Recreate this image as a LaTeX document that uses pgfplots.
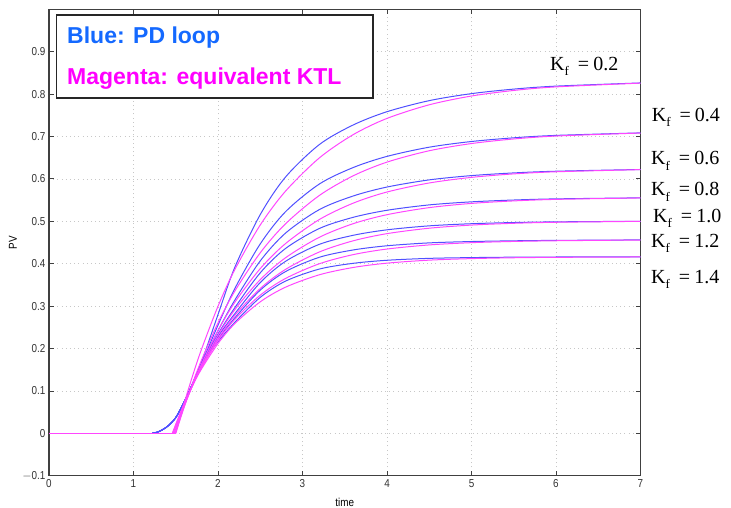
\documentclass[border=0pt]{standalone}
\usepackage{fontspec}
\setmainfont{Liberation Sans}
\newfontfamily\tickfont[FakeStretch=0.86]{Liberation Sans}
\newfontfamily\timesf{Liberation Serif}
\usepackage{pgfplots}
\pgfplotsset{compat=1.18}
\definecolor{pdblue}{RGB}{80,80,255}
\definecolor{ktlmag}{RGB}{255,70,255}
\definecolor{legblue}{RGB}{20,105,255}
\definecolor{legmag}{RGB}{255,0,255}
\newcommand{\Kf}[1]{{\timesf\fontsize{20bp}{22bp}\selectfont K\raisebox{-0.55ex}{\fontsize{13bp}{13bp}\selectfont f}\hspace{0.45em}=\hspace{0.2em}#1}}
\begin{document}
\begin{tikzpicture}
\begin{axis}[
  at={(0,0)}, anchor=south west,
  scale only axis, width=591.5bp, height=466.4bp,
  xmin=0, xmax=7, ymin=-0.1, ymax=1.0,
  xtick={0,1,2,3,4,5,6,7},
  ytick={-0.1,0,0.1,0.2,0.3,0.4,0.5,0.6,0.7,0.8,0.9},
  yticklabels={$-$0.1,0,0.1,0.2,0.3,0.4,0.5,0.6,0.7,0.8,0.9},
  /pgf/number format/assume math mode=true,
  tick label style={font=\tickfont\fontsize{11.5bp}{13bp}\selectfont, text=black!80},
  tick align=inside, tick pos=both,
  major tick length=5bp,
  every tick/.style={black!75, line width=0.8bp},
  axis line style={black!75, line width=1.4bp},
  grid=major,
  major grid style={draw=black!22, line width=0.7bp, dash pattern=on 1bp off 3.2bp},
  xlabel={time}, ylabel={PV},
  xlabel style={at={([yshift=-27bp]axis description cs:0.5,0)}, anchor=center, font=\tickfont\fontsize{11.5bp}{13bp}\selectfont},
  ylabel style={at={([xshift=-36bp]axis description cs:0,0.5)}, anchor=center, rotate=0, font=\tickfont\fontsize{11.5bp}{13bp}\selectfont},
  clip=true,
]
% blue: PD loop
\addplot[pdblue, line width=1bp, smooth] coordinates {(1.22,0)(1.3,0.004)(1.4,0.016)(1.5,0.037)(1.6,0.074)(1.7,0.117)(1.8,0.165)(2.0,0.280)(2.2,0.392)(2.5,0.5158)(2.8,0.6046)(3.2,0.6811)(3.6,0.7272)(4.0,0.7585)(4.5,0.7846)(5.0,0.8011)(5.5,0.8118)(6.0,0.8188)(7.0,0.8263)};
\addplot[pdblue, line width=1bp, smooth] coordinates {(1.22,0)(1.3,0.004)(1.4,0.016)(1.5,0.037)(1.6,0.074)(1.7,0.117)(1.8,0.162)(2.0,0.255)(2.2,0.3417)(2.5,0.4467)(2.8,0.5228)(3.2,0.5880)(3.6,0.6268)(4.0,0.6531)(4.5,0.6748)(5.0,0.6882)(5.5,0.6969)(6.0,0.7026)(7.0,0.7085)};
\addplot[pdblue, line width=1bp, smooth] coordinates {(1.22,0)(1.3,0.004)(1.4,0.016)(1.5,0.037)(1.6,0.074)(1.7,0.117)(1.8,0.162)(2.0,0.242)(2.2,0.3144)(2.5,0.4066)(2.8,0.4723)(3.2,0.5277)(3.6,0.5597)(4.0,0.5808)(4.5,0.5977)(5.0,0.6078)(5.5,0.6141)(6.0,0.6181)(7.0,0.6222)};
\addplot[pdblue, line width=1bp, smooth] coordinates {(1.22,0)(1.3,0.004)(1.4,0.016)(1.5,0.037)(1.6,0.074)(1.7,0.117)(1.8,0.162)(2.0,0.234)(2.2,0.2965)(2.5,0.3785)(2.8,0.4360)(3.2,0.4831)(3.6,0.5094)(4.0,0.5260)(4.5,0.5387)(5.0,0.5459)(5.5,0.5502)(6.0,0.5529)(7.0,0.5553)};
\addplot[pdblue, line width=1bp, smooth] coordinates {(1.22,0)(1.3,0.004)(1.4,0.016)(1.5,0.037)(1.6,0.074)(1.7,0.117)(1.8,0.162)(2.0,0.228)(2.2,0.2824)(2.5,0.3555)(2.8,0.4057)(3.2,0.4457)(3.6,0.4670)(4.0,0.4799)(4.5,0.4893)(5.0,0.4943)(5.5,0.4971)(6.0,0.4987)(7.0,0.5001)};
\addplot[pdblue, line width=1bp, smooth] coordinates {(1.22,0)(1.3,0.004)(1.4,0.016)(1.5,0.037)(1.6,0.074)(1.7,0.117)(1.8,0.162)(2.0,0.222)(2.2,0.2724)(2.5,0.3377)(2.8,0.3815)(3.2,0.4152)(3.6,0.4324)(4.0,0.4423)(4.5,0.4491)(5.0,0.4523)(5.5,0.4540)(6.0,0.4550)(7.0,0.4561)};
\addplot[pdblue, line width=1bp, smooth] coordinates {(1.22,0)(1.3,0.004)(1.4,0.016)(1.5,0.037)(1.6,0.074)(1.7,0.117)(1.8,0.162)(2.0,0.216)(2.2,0.2619)(2.5,0.3206)(2.8,0.3590)(3.2,0.3874)(3.6,0.4009)(4.0,0.4081)(4.5,0.4126)(5.0,0.4144)(5.5,0.4154)(6.0,0.4158)(7.0,0.4161)};
% magenta: equivalent KTL
\addplot[ktlmag, line width=1bp] coordinates {(0,0)(1.50,0)};
\addplot[ktlmag, line width=1bp, smooth] coordinates {(1.50,0)(1.6,0.0711)(1.7,0.1360)(1.8,0.1955)(2.0,0.2996)(2.2,0.3866)(2.5,0.4913)(2.8,0.5713)(3.2,0.6496)(3.6,0.7044)(4.0,0.7427)(4.5,0.7748)(5.0,0.7955)(5.5,0.8086)(6.0,0.8170)(7.0,0.8259)};
\addplot[ktlmag, line width=1bp, smooth] coordinates {(1.50,0)(1.6,0.0620)(1.7,0.1185)(1.8,0.1702)(2.0,0.2604)(2.2,0.3357)(2.5,0.4257)(2.8,0.4943)(3.2,0.5610)(3.6,0.6073)(4.0,0.6396)(4.5,0.6664)(5.0,0.6834)(5.5,0.6942)(6.0,0.7011)(7.0,0.7082)};
\addplot[ktlmag, line width=1bp, smooth] coordinates {(1.49,0)(1.6,0.0628)(1.7,0.1142)(1.8,0.1611)(2.0,0.2423)(2.2,0.3092)(2.5,0.3884)(2.8,0.4476)(3.2,0.5043)(3.6,0.5428)(4.0,0.5691)(4.5,0.5904)(5.0,0.6036)(5.5,0.6118)(6.0,0.6168)(7.0,0.6219)};
\addplot[ktlmag, line width=1bp, smooth] coordinates {(1.48,0)(1.6,0.0648)(1.7,0.1130)(1.8,0.1565)(2.0,0.2311)(2.2,0.2919)(2.5,0.3624)(2.8,0.4141)(3.2,0.4624)(3.6,0.4944)(4.0,0.5156)(4.5,0.5323)(5.0,0.5422)(5.5,0.5481)(6.0,0.5517)(7.0,0.5551)};
\addplot[ktlmag, line width=1bp, smooth] coordinates {(1.47,0)(1.6,0.0674)(1.7,0.1130)(1.8,0.1538)(2.0,0.2230)(2.2,0.2784)(2.5,0.3415)(2.8,0.3867)(3.2,0.4277)(3.6,0.4540)(4.0,0.4709)(4.5,0.4837)(5.0,0.4911)(5.5,0.4953)(6.0,0.4977)(7.0,0.4999)};
\addplot[ktlmag, line width=1bp, smooth] coordinates {(1.46,0)(1.6,0.0708)(1.7,0.1145)(1.8,0.1533)(2.0,0.2181)(2.2,0.2690)(2.5,0.3258)(2.8,0.3653)(3.2,0.3999)(3.6,0.4214)(4.0,0.4346)(4.5,0.4443)(5.0,0.4496)(5.5,0.4525)(6.0,0.4541)(7.0,0.4559)};
\addplot[ktlmag, line width=1bp, smooth] coordinates {(1.46,0)(1.6,0.0700)(1.7,0.1127)(1.8,0.1501)(2.0,0.2116)(2.2,0.2589)(2.5,0.3101)(2.8,0.3447)(3.2,0.3739)(3.6,0.3911)(4.0,0.4013)(4.5,0.4084)(5.0,0.4120)(5.5,0.4140)(6.0,0.4150)(7.0,0.4159)};
\end{axis}
% legend box
\draw[fill=white, draw=black!85, line width=1.2bp] (7.7bp,377.7bp) rectangle (324bp,460.7bp);
\node[anchor=base west, inner sep=0pt, text=legblue, font=\bfseries\fontsize{23bp}{26bp}\selectfont] at (18bp,432.4bp) {Blue: PD loop};
\node[anchor=base west, inner sep=0pt, text=legmag, font=\bfseries\fontsize{23bp}{26bp}\selectfont] at (18bp,391bp) {Magenta: equivalent KTL};
% K_f labels
\node[anchor=base west, inner sep=0pt] at (501bp,405bp) {\Kf{0.2}};
\node[anchor=base west, inner sep=0pt] at (602.7bp,354bp) {\Kf{0.4}};
\node[anchor=base west, inner sep=0pt] at (602bp,310.7bp) {\Kf{0.6}};
\node[anchor=base west, inner sep=0pt] at (602bp,279.7bp) {\Kf{0.8}};
\node[anchor=base west, inner sep=0pt] at (604bp,253bp) {\Kf{1.0}};
\node[anchor=base west, inner sep=0pt] at (602bp,228.4bp) {\Kf{1.2}};
\node[anchor=base west, inner sep=0pt] at (602bp,192.4bp) {\Kf{1.4}};
\pgfresetboundingbox
\useasboundingbox (-49bp,-32.3bp) rectangle (682bp,475.7bp);
\end{tikzpicture}
\end{document}
